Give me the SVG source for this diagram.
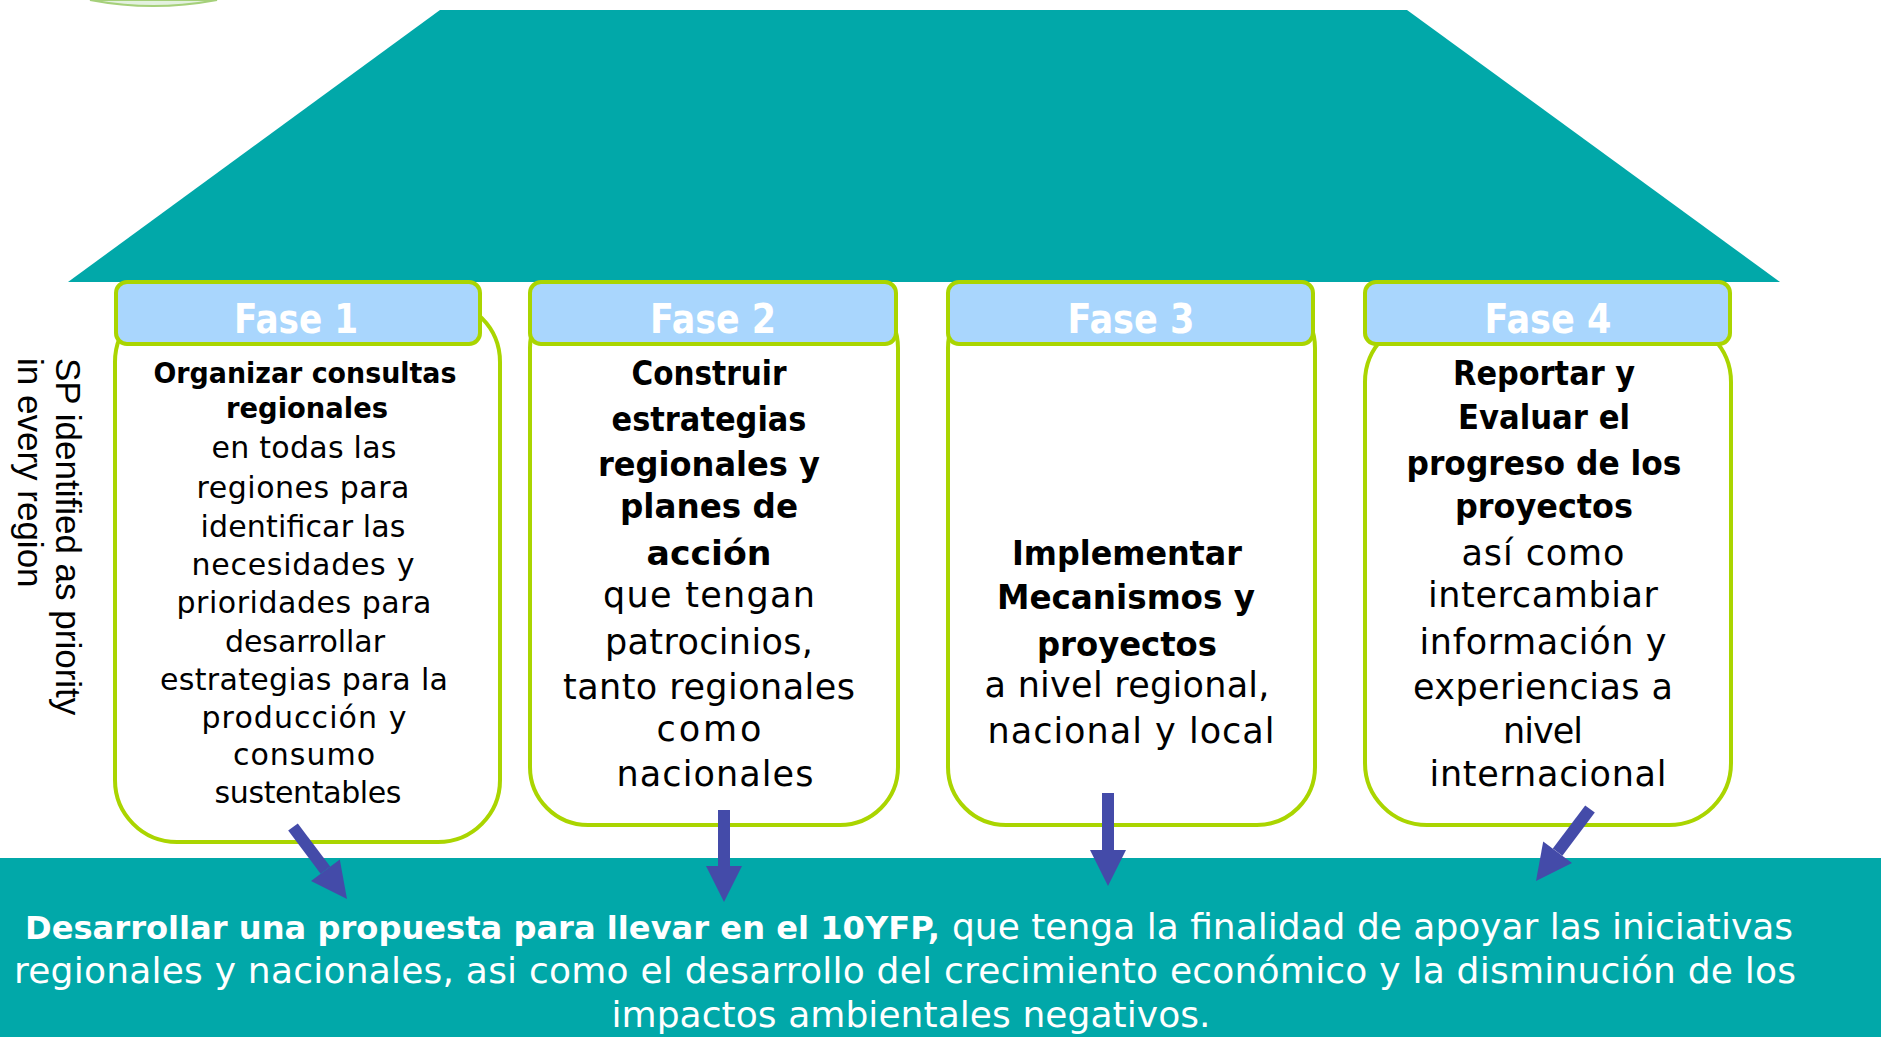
<svg xmlns="http://www.w3.org/2000/svg" width="1881" height="1037" viewBox="0 0 1881 1037">
<style>
  .teal{fill:#01A8A9;}
  .body{fill:#FFFFFF;stroke:#AAD500;stroke-width:4;}
  .head{fill:#A9D6FD;stroke:#AAD500;stroke-width:4;}
  .fase{font-family:"DejaVu Sans",sans-serif;font-weight:bold;font-size:40px;fill:#FFFFFF;text-anchor:middle;}
  .b1{font-family:"DejaVu Sans",sans-serif;font-weight:bold;font-size:28px;fill:#000;text-anchor:middle;}
  .r1{font-family:"DejaVu Sans",sans-serif;font-size:30px;fill:#000;text-anchor:middle;}
  .b2{font-family:"DejaVu Sans",sans-serif;font-weight:bold;font-size:34px;fill:#000;text-anchor:middle;}
  .r2{font-family:"DejaVu Sans",sans-serif;font-size:35px;fill:#000;text-anchor:middle;}
  .side{font-family:"Liberation Sans",Arial,sans-serif;font-size:35px;fill:#000;}
  .bb{font-family:"DejaVu Sans",sans-serif;font-weight:bold;font-size:32px;fill:#FFFFFF;}
  .br{font-family:"DejaVu Sans",sans-serif;font-size:36px;fill:#FFFFFF;}
  .arrow{stroke:#444BA9;stroke-width:12;fill:none;}
</style>
<defs>
  <marker id="head" markerUnits="userSpaceOnUse" markerWidth="36" markerHeight="36" refX="0" refY="18" orient="auto" overflow="visible">
    <path d="M0,0 L36,18 L0,36 Z" fill="#444BA9"/>
  </marker>
</defs>

<g id="logo-fragment">
  <path d="M90,0 Q153,12 217,0 Z" fill="#E3F1DF" stroke="#A5D07A" stroke-width="2"/>
</g>

<g id="roof">
  <polygon class="teal" points="440,10 1407,10 1780,282 68,282"/>
</g>

<g id="outcome">
  <rect class="teal" x="0" y="858" width="1881" height="179"/>
  <text class="bb" x="25" y="939" textLength="915" lengthAdjust="spacingAndGlyphs">Desarrollar una propuesta para llevar en el 10YFP,</text>
  <text class="br" x="952" y="939" textLength="841">que tenga la finalidad de apoyar las iniciativas</text>
  <text class="br" x="905" y="983" text-anchor="middle" textLength="1782">regionales y nacionales, asi como el desarrollo del crecimiento económico y la disminución de los</text>
  <text class="br" x="911" y="1027" text-anchor="middle" textLength="599">impactos ambientales negativos.</text>
</g>

<g id="side-label">
  <text class="side" transform="translate(56,358) rotate(90)">SP identified as priority</text>
  <text class="side" transform="translate(18,358) rotate(90)">in every region</text>
</g>

<g id="phase1">
  <rect class="body" x="115" y="300" width="385" height="542" rx="62"/>
  <rect class="head" x="116" y="282" width="364" height="62" rx="11"/>
  <text class="fase" x="296" y="333" textLength="124" lengthAdjust="spacingAndGlyphs">Fase 1</text>
  <text class="b1" x="305" y="383" textLength="303" lengthAdjust="spacingAndGlyphs">Organizar consultas</text>
  <text class="b1" x="307" y="418" textLength="162" lengthAdjust="spacingAndGlyphs">regionales</text>
  <text class="r1" x="304" y="458" textLength="185">en todas las</text>
  <text class="r1" x="303" y="498" textLength="213">regiones para</text>
  <text class="r1" x="303" y="537" textLength="205">identificar las</text>
  <text class="r1" x="303" y="575" textLength="223">necesidades y</text>
  <text class="r1" x="304" y="613" textLength="255">prioridades para</text>
  <text class="r1" x="305" y="652" textLength="160">desarrollar</text>
  <text class="r1" x="304" y="690" textLength="288">estrategias para la</text>
  <text class="r1" x="304" y="728" textLength="205">producción y</text>
  <text class="r1" x="304" y="765" textLength="142">consumo</text>
  <text class="r1" x="308" y="803" textLength="187">sustentables</text>
</g>

<g id="phase2">
  <rect class="body" x="530" y="290" width="368" height="535" rx="58"/>
  <rect class="head" x="530" y="282" width="366" height="62" rx="11"/>
  <text class="fase" x="713" y="333" textLength="126" lengthAdjust="spacingAndGlyphs">Fase 2</text>
  <text class="b2" x="709" y="385" textLength="155" lengthAdjust="spacingAndGlyphs">Construir</text>
  <text class="b2" x="709" y="431" textLength="195" lengthAdjust="spacingAndGlyphs">estrategias</text>
  <text class="b2" x="709" y="476" textLength="222" lengthAdjust="spacingAndGlyphs">regionales y</text>
  <text class="b2" x="709" y="518" textLength="178" lengthAdjust="spacingAndGlyphs">planes de</text>
  <text class="b2" x="709" y="565" textLength="125" lengthAdjust="spacingAndGlyphs">acción</text>
  <text class="r2" x="709" y="607" textLength="212">que tengan</text>
  <text class="r2" x="709" y="654" textLength="208">patrocinios,</text>
  <text class="r2" x="709" y="699" textLength="292">tanto regionales</text>
  <text class="r2" x="709" y="741" textLength="105">como</text>
  <text class="r2" x="715" y="786" textLength="197">nacionales</text>
</g>

<g id="phase3">
  <rect class="body" x="948" y="290" width="367" height="535" rx="58"/>
  <rect class="head" x="948" y="282" width="365" height="62" rx="11"/>
  <text class="fase" x="1131" y="333" textLength="127" lengthAdjust="spacingAndGlyphs">Fase 3</text>
  <text class="b2" x="1127" y="565" textLength="230" lengthAdjust="spacingAndGlyphs">Implementar</text>
  <text class="b2" x="1126" y="609" textLength="258" lengthAdjust="spacingAndGlyphs">Mecanismos y</text>
  <text class="b2" x="1127" y="656" textLength="180" lengthAdjust="spacingAndGlyphs">proyectos</text>
  <text class="r2" x="1127" y="697" textLength="285">a nivel regional,</text>
  <text class="r2" x="1131" y="743" textLength="287">nacional y local</text>
</g>

<g id="phase4">
  <rect class="body" x="1365" y="320" width="366" height="505" rx="62"/>
  <rect class="head" x="1365" y="282" width="365" height="62" rx="11"/>
  <text class="fase" x="1548" y="333" textLength="127" lengthAdjust="spacingAndGlyphs">Fase 4</text>
  <text class="b2" x="1544" y="385" textLength="182" lengthAdjust="spacingAndGlyphs">Reportar y</text>
  <text class="b2" x="1544" y="429" textLength="172" lengthAdjust="spacingAndGlyphs">Evaluar el</text>
  <text class="b2" x="1544" y="475" textLength="275" lengthAdjust="spacingAndGlyphs">progreso de los</text>
  <text class="b2" x="1544" y="518" textLength="178" lengthAdjust="spacingAndGlyphs">proyectos</text>
  <text class="r2" x="1543" y="565" textLength="163">así como</text>
  <text class="r2" x="1543" y="607" textLength="230">intercambiar</text>
  <text class="r2" x="1543" y="654" textLength="247">información y</text>
  <text class="r2" x="1543" y="699" textLength="260">experiencias a</text>
  <text class="r2" x="1543" y="743" textLength="80">nivel</text>
  <text class="r2" x="1548" y="786" textLength="237">internacional</text>
</g>

<g id="connectors">
  <line class="arrow" x1="293" y1="827" x2="325.4" y2="870.2" marker-end="url(#head)"/>
  <line class="arrow" x1="724" y1="810" x2="724" y2="866" marker-end="url(#head)"/>
  <line class="arrow" x1="1108" y1="793" x2="1108" y2="850" marker-end="url(#head)"/>
  <line class="arrow" x1="1590" y1="809" x2="1557.6" y2="852.2" marker-end="url(#head)"/>
</g>
</svg>
